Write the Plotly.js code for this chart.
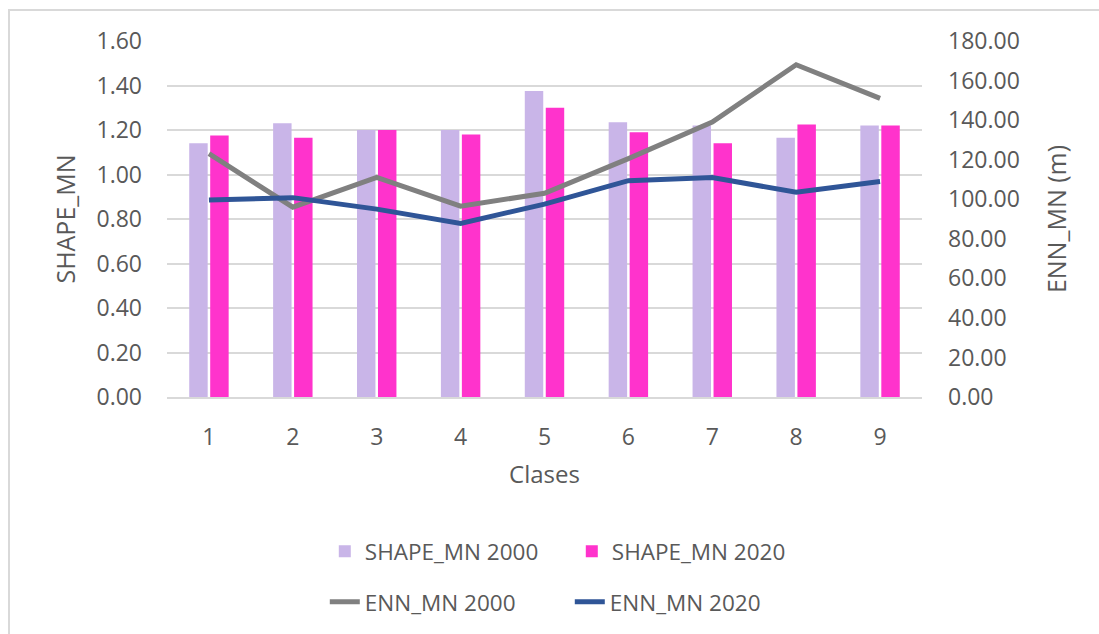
<!DOCTYPE html>
<html>
<head>
<meta charset="utf-8">
<script src="https://cdn.plot.ly/plotly-3.0.1.min.js"></script>
<style>
  html, body { margin: 0; padding: 0; background: #ffffff; }
  #wrap { position: relative; width: 1099px; height: 634px; overflow: hidden; }
  #chart { width: 1099px; height: 634px; }
  #frame { position: absolute; left: 8px; top: 9px; width: 1200px; height: 800px;
           border-left: 2px solid #D9D9D9; border-top: 2px solid #D9D9D9; pointer-events: none; }
</style>
</head>
<body>
<div id="wrap">
  <div id="chart"></div>
  <div id="frame"></div>
</div>
<script>
// ---- data ----
const classes = ['1', '2', '3', '4', '5', '6', '7', '8', '9'];
const shape2000 = [1.14, 1.23, 1.20, 1.20, 1.375, 1.235, 1.22, 1.165, 1.22];
const shape2020 = [1.175, 1.165, 1.20, 1.18, 1.30, 1.19, 1.14, 1.225, 1.22];
const enn2000 = [123.0, 96.0, 111.0, 96.5, 103.0, 120.5, 139.0, 168.0, 151.0];
const enn2020 = [99.6, 100.8, 95.0, 87.8, 97.5, 109.4, 111.0, 103.5, 109.0];
const leftTicks = [0, 0.2, 0.4, 0.6, 0.8, 1.0, 1.2, 1.4, 1.6];
const rightTicks = [0, 20, 40, 60, 80, 100, 120, 140, 160, 180];

const textColor = '#595959';
const gridColor = '#D9D9D9';
const fontFam = '"Open Sans", "Noto Sans", sans-serif';

const traces = [
  { type: 'bar', name: 'SHAPE_MN 2000', x: classes, y: shape2000,
    marker: { color: '#C9B5E8' }, legend: 'legend', hoverinfo: 'y' },
  { type: 'bar', name: 'SHAPE_MN 2020', x: classes, y: shape2020,
    marker: { color: '#FF33CC' }, legend: 'legend', hoverinfo: 'y' },
  { type: 'scatter', mode: 'lines', name: 'ENN_MN 2000', x: classes, y: enn2000,
    yaxis: 'y2', line: { color: '#808080', width: 5 }, legend: 'legend2' },
  { type: 'scatter', mode: 'lines', name: 'ENN_MN 2020', x: classes, y: enn2020,
    yaxis: 'y2', line: { color: '#2F5597', width: 5 }, legend: 'legend2' }
];

const layout = {
  width: 1099, height: 634,
  margin: { l: 167, r: 177, t: 41, b: 236, pad: 0 },
  paper_bgcolor: '#ffffff', plot_bgcolor: '#ffffff',
  font: { family: fontFam, color: textColor, size: 22 },
  barmode: 'group', bargap: 0.5, bargroupgap: 0.12,
  showlegend: true,
  xaxis: {
    type: 'category',
    showgrid: false, showline: true, linecolor: gridColor, linewidth: 2,
    ticks: '', ticklabelstandoff: 18,
    tickfont: { size: 23, color: textColor },
    title: { text: 'Clases', font: { size: 24, color: textColor }, standoff: 16 }
  },
  yaxis: {
    range: [0, 1.6], tickvals: leftTicks, tickformat: '.2f',
    showgrid: true, gridcolor: gridColor, gridwidth: 2,
    zeroline: false, showline: false, ticks: '', ticklabelstandoff: 24,
    tickfont: { size: 23, color: textColor },
    title: { text: 'SHAPE_MN', font: { size: 25, color: textColor }, standoff: 13 }
  },
  yaxis2: {
    overlaying: 'y', side: 'right',
    range: [0, 180], tickvals: rightTicks, tickformat: '.2f',
    showgrid: false, zeroline: false, showline: false, ticks: '', ticklabelstandoff: 25,
    tickfont: { size: 23, color: textColor },
    title: { text: 'ENN_MN (m)', font: { size: 25, color: textColor }, standoff: 29 }
  },
  legend: {
    orientation: 'h', x: 0.209, xanchor: 'left', y: -0.43, yanchor: 'middle',
    entrywidth: 202, entrywidthmode: 'pixels', itemwidth: 30,
    font: { size: 22.5, color: textColor }, bgcolor: 'rgba(0,0,0,0)', traceorder: 'normal'
  },
  legend2: {
    orientation: 'h', x: 0.209, xanchor: 'left', y: -0.572, yanchor: 'middle',
    entrywidth: 200, entrywidthmode: 'pixels', itemwidth: 30,
    font: { size: 22.5, color: textColor }, bgcolor: 'rgba(0,0,0,0)', traceorder: 'normal'
  }
};

Plotly.newPlot('chart', traces, layout, { displayModeBar: false, staticPlot: true });
</script>
</body>
</html>
